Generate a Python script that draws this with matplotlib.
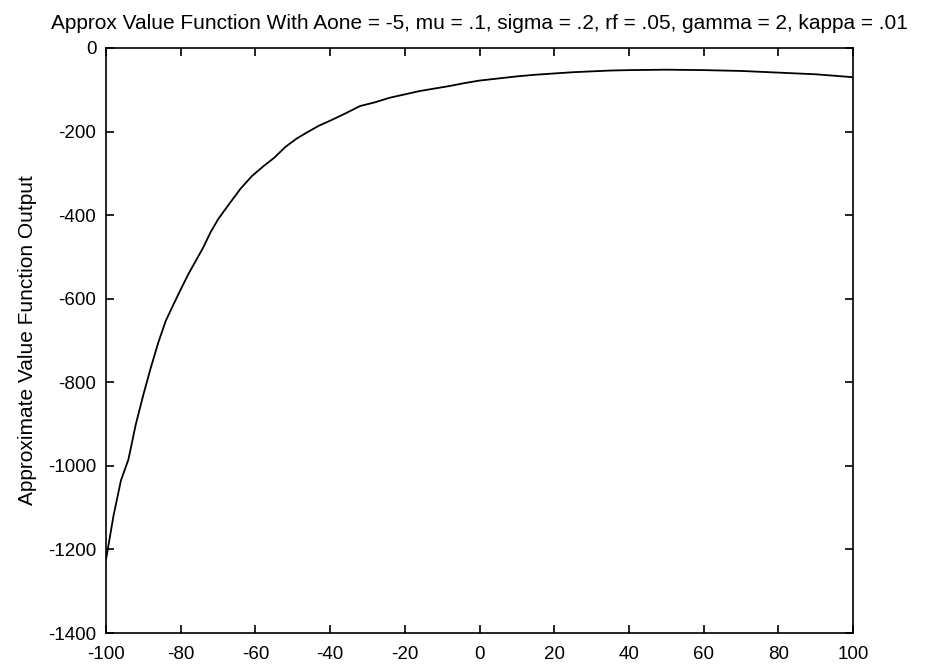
import matplotlib
matplotlib.use("Agg")
import matplotlib.pyplot as plt

plt.rcParams['font.family'] = ['Liberation Sans', 'DejaVu Sans']
plt.rcParams['axes.unicode_minus'] = False

x_vals = [-100, -98, -96, -94, -92, -90, -88, -86, -84, -82, -80, -78, -76, -74,
          -72, -70, -67, -64, -61, -58, -55, -52, -49, -46, -43, -40, -36, -32,
          -28, -24, -20, -16, -12, -8, -4, 0, 5, 10, 15, 20, 25, 30, 35, 40, 50,
          60, 70, 80, 90, 100]
y_vals = [-1225, -1120, -1035, -985, -900, -830, -765, -705, -653, -615, -578,
          -542, -510, -478, -441, -410, -373, -337, -307, -284, -263, -237, -217,
          -201, -186, -174, -157, -139, -130, -119, -111, -103, -97, -91, -84,
          -78, -73, -68, -64, -61, -58, -56, -54, -53, -52, -53, -55, -59, -63,
          -70]

x_ticks = [-100, -80, -60, -40, -20, 0, 20, 40, 60, 80, 100]
y_ticks = [0, -200, -400, -600, -800, -1000, -1200, -1400]

title = ("Approx Value Function With Aone = -5, mu = .1, sigma = .2, "
         "rf = .05, gamma = 2, kappa = .01")
ylabel = "Approximate Value Function Output"

fig = plt.figure(figsize=(9.28, 6.69), dpi=100)
ax = fig.add_axes([0.1142, 0.0538, 0.8052, 0.8745])
ax.plot(x_vals, y_vals, color='black', linewidth=1.3)
ax.set_xlim(-100, 100)
ax.set_ylim(-1400, 0)
ax.set_xticks(x_ticks)
ax.set_yticks(y_ticks)
ax.tick_params(direction='in', length=6, width=1.2, top=True, right=True,
               labelsize=13.5)
ax.tick_params(axis='x', pad=9)
ax.tick_params(axis='y', pad=7)
for s in ax.spines.values():
    s.set_linewidth(1.2)
ax.set_title(title, fontsize=15, pad=14)
ax.set_ylabel(ylabel, fontsize=15, labelpad=8)
fig.savefig("out.png", dpi=100)
